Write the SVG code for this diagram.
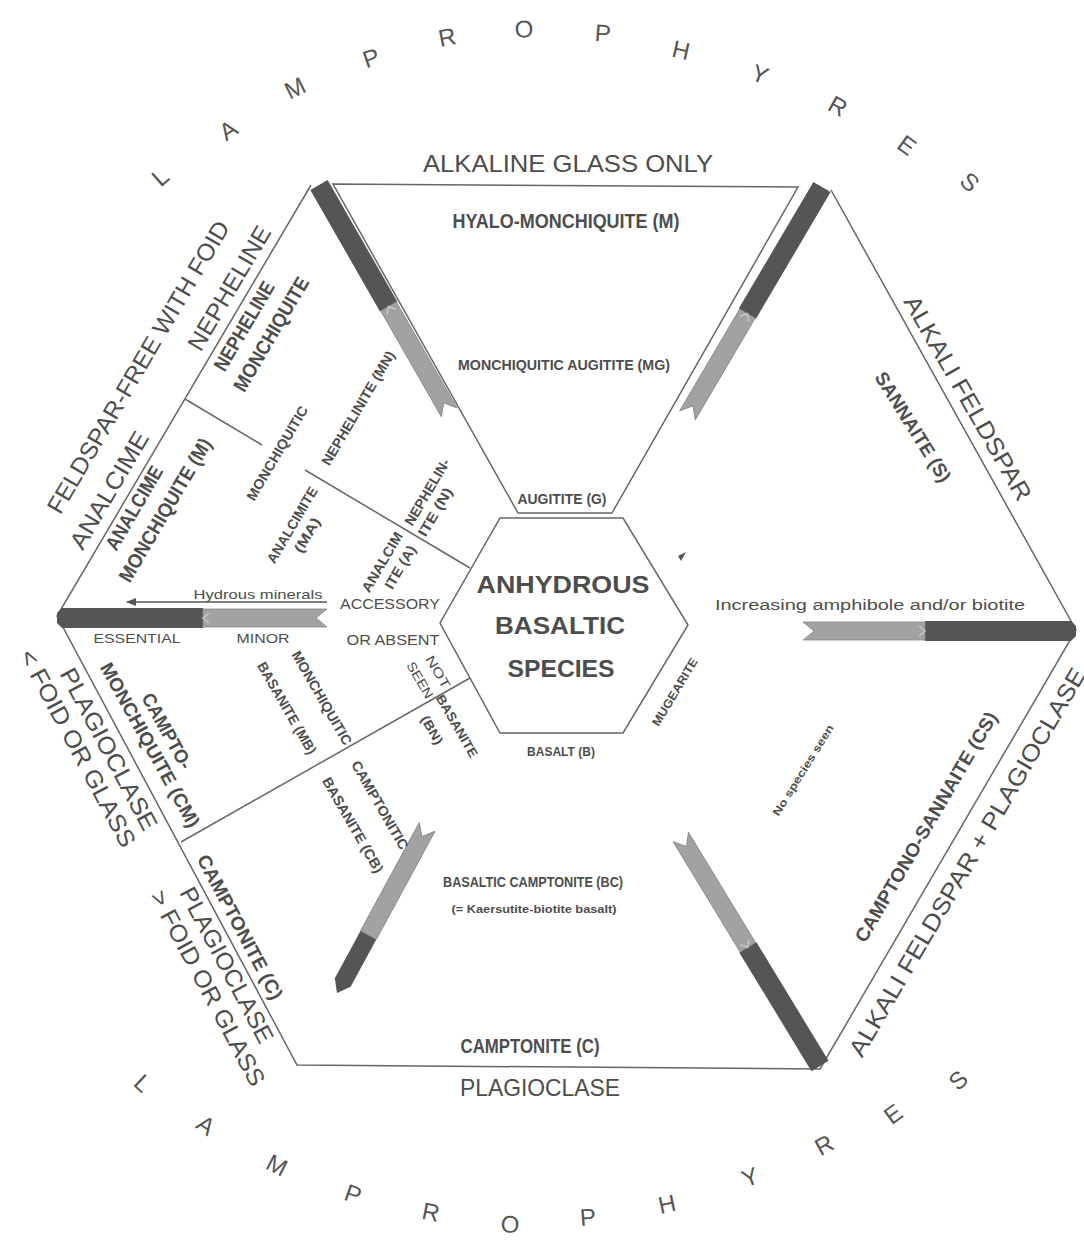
<svg xmlns="http://www.w3.org/2000/svg" width="1084" height="1242" viewBox="0 0 1084 1242">
<defs>
<style>
text{font-family:"Liberation Sans",Arial,Helvetica,sans-serif;fill:#4d4d4d;text-anchor:middle;dominant-baseline:central}
.r{font-size:24px}
.b{font-weight:bold}
.ln{fill:none;stroke:#666;stroke-width:1.5}
.dk{fill:#555}
.gy{fill:#a2a2a2;stroke:#858585;stroke-width:0.8}
.chev{fill:none;stroke:#c8c8c8;stroke-width:1.5}
.lt{font-size:24px;fill:#555}
</style>
<marker id="ah" markerWidth="10" markerHeight="8" refX="9" refY="4" orient="auto" markerUnits="userSpaceOnUse"><path d="M0,0 L10,4 L0,8 Z" fill="#555"/></marker>
</defs>
<rect width="1084" height="1242" fill="#fff"/>

<g id="frame">
<polygon class="ln" points="333,184 798,187 612,513 518,513"/>
<polyline class="ln" points="311,185 57,616 297,1065 820,1069 1076,630 831,190"/>
<polygon class="ln" points="500,518 623,518 688,625 623,733 500,733 440,623"/>
<line class="ln" x1="185" y1="399" x2="262" y2="445"/>
<line class="ln" x1="305" y1="470" x2="470" y2="568"/>
<line class="ln" x1="181" y1="842" x2="470" y2="678"/>
<path d="M678,556 L686,552 L681,561 Z" fill="#555"/>
</g>

<g id="bars">
<g transform="translate(319 185) rotate(60.2)">
<path class="dk" d="M0,-10 L140,-10 L140,10 L0,10 Z"/>
<path class="gy" d="M140,-9 L262,-9 L251,0 L262,9 L140,9 Z"/>
<polyline class="chev" points="146,-5 140,0 146,5"/>
</g>
<g transform="translate(822 187) rotate(120.5)">
<path class="dk" d="M0,-10 L147,-10 L147,10 L0,10 Z"/>
<path class="gy" d="M147,-9 L265,-9 L254,0 L265,9 L147,9 Z"/>
<polyline class="chev" points="153,-5 147,0 153,5"/>
</g>
<g transform="translate(1076 631) rotate(180)">
<path class="dk" d="M0,-5 L5,-10 L151,-10 L151,10 L5,10 L0,5 Z"/>
<path class="gy" d="M151,-9 L273,-9 L262,0 L273,9 L151,9 Z"/>
<polyline class="chev" points="157,-5 151,0 157,5"/>
</g>
<g transform="translate(820 1066) rotate(-121.3)">
<path class="dk" d="M0,-10 L139,-10 L139,10 L0,10 Z"/>
<path class="gy" d="M139,-9 L268,-9 L257,0 L268,9 L139,9 Z"/>
<polyline class="chev" points="145,-5 139,0 145,5"/>
</g>
<g transform="translate(337 993) rotate(-61.5)">
<path class="dk" d="M0,0 L12,-9 L66,-9 L66,9 L12,9 Z"/>
<path class="gy" d="M66,-9 L189,-9 L178,0 L189,9 L66,9 Z"/>
</g>
<g transform="translate(57 618) rotate(0)">
<path class="dk" d="M0,-5 L5,-10 L146,-10 L146,10 L5,10 L0,5 Z"/>
<path class="gy" d="M146,-9 L270,-9 L259,0 L270,9 L146,9 Z"/>
<polyline class="chev" points="152,-5 146,0 152,5"/>
</g>
</g>

<g id="connectors">
<line x1="327" y1="602" x2="127" y2="602" stroke="#555" stroke-width="1.3" marker-end="url(#ah)"/>
</g>

<g id="centre">
<text class="b" font-size="23" x="563" y="585" textLength="173" lengthAdjust="spacingAndGlyphs">ANHYDROUS</text>
<text class="b" font-size="23" x="560" y="626" textLength="130" lengthAdjust="spacingAndGlyphs">BASALTIC</text>
<text class="b" font-size="23" x="561" y="669" textLength="107" lengthAdjust="spacingAndGlyphs">SPECIES</text>
</g>

<g id="top-sector">
<text class="r" x="568" y="163" textLength="290" lengthAdjust="spacingAndGlyphs">ALKALINE GLASS ONLY</text>
<text class="b" font-size="20" x="566" y="221" textLength="227" lengthAdjust="spacingAndGlyphs">HYALO-MONCHIQUITE  (M)</text>
<text class="b" font-size="15" x="564" y="364" textLength="212" lengthAdjust="spacingAndGlyphs">MONCHIQUITIC AUGITITE  (MG)</text>
<text class="b" font-size="15" x="562" y="498" textLength="89" lengthAdjust="spacingAndGlyphs">AUGITITE (G)</text>
</g>

<g id="upper-left-sector">
<text class="r" transform="translate(138 367) rotate(-59.5)" textLength="335" lengthAdjust="spacingAndGlyphs">FELDSPAR-FREE WITH FOID</text>
<text class="r" transform="translate(229 288) rotate(-59.5)" textLength="140" lengthAdjust="spacingAndGlyphs">NEPHELINE</text>
<text class="r" transform="translate(109 490) rotate(-59.5)" textLength="132" lengthAdjust="spacingAndGlyphs">ANALCIME</text>
<text class="b" font-size="20" transform="translate(244 326) rotate(-59.5)" textLength="100" lengthAdjust="spacingAndGlyphs">NEPHELINE</text>
<text class="b" font-size="20" transform="translate(271 334) rotate(-59.5)" textLength="129" lengthAdjust="spacingAndGlyphs">MONCHIQUITE</text>
<text class="b" font-size="20" transform="translate(134 508) rotate(-59.5)" textLength="94" lengthAdjust="spacingAndGlyphs">ANALCIME</text>
<text class="b" font-size="20" transform="translate(165 510) rotate(-59.5)" textLength="163" lengthAdjust="spacingAndGlyphs">MONCHIQUITE  (M)</text>
<text class="b" font-size="14" transform="translate(277 453) rotate(-59.5)" textLength="107" lengthAdjust="spacingAndGlyphs">MONCHIQUITIC</text>
<text class="b" font-size="14" transform="translate(358 408) rotate(-59.5)" textLength="130" lengthAdjust="spacingAndGlyphs">NEPHELINITE  (MN)</text>
<text class="b" font-size="14" transform="translate(292 525) rotate(-59.5)" textLength="86" lengthAdjust="spacingAndGlyphs">ANALCIMITE</text>
<text class="b" font-size="14" transform="translate(307 535) rotate(-59.5)" textLength="38" lengthAdjust="spacingAndGlyphs">(MA)</text>
<text class="b" font-size="14" transform="translate(427 492) rotate(-59.5)" textLength="75" lengthAdjust="spacingAndGlyphs">NEPHELIN-</text>
<text class="b" font-size="14" transform="translate(435 512) rotate(-59.5)" textLength="54" lengthAdjust="spacingAndGlyphs">ITE (N)</text>
<text class="b" font-size="14" transform="translate(382 562) rotate(-59.5)" textLength="67" lengthAdjust="spacingAndGlyphs">ANALCIM</text>
<text class="b" font-size="14" transform="translate(400 567) rotate(-59.5)" textLength="48" lengthAdjust="spacingAndGlyphs">ITE (A)</text>
</g>

<g id="left-scale">
<text font-size="13" x="258" y="594" textLength="129" lengthAdjust="spacingAndGlyphs">Hydrous minerals</text>
<text font-size="14" x="390" y="604" textLength="100" lengthAdjust="spacingAndGlyphs">ACCESSORY</text>
<text font-size="14" x="393" y="640" textLength="93" lengthAdjust="spacingAndGlyphs">OR ABSENT</text>
<text font-size="13" x="137" y="638" textLength="87" lengthAdjust="spacingAndGlyphs">ESSENTIAL</text>
<text font-size="13" x="263" y="638" textLength="53" lengthAdjust="spacingAndGlyphs">MINOR</text>
</g>

<g id="lower-left-sector">
<text class="r" transform="translate(109 749) rotate(62)" textLength="180" lengthAdjust="spacingAndGlyphs">PLAGIOCLASE</text>
<text class="r" transform="translate(78 748) rotate(62)" textLength="220" lengthAdjust="spacingAndGlyphs">&lt; FOID OR GLASS</text>
<text class="b" font-size="19" transform="translate(167 731) rotate(61)" textLength="84" lengthAdjust="spacingAndGlyphs">CAMPTO-</text>
<text class="b" font-size="19" transform="translate(150 745) rotate(61)" textLength="185" lengthAdjust="spacingAndGlyphs">MONCHIQUITE  (CM)</text>
<text class="b" font-size="14" transform="translate(322 698) rotate(60)" textLength="106" lengthAdjust="spacingAndGlyphs">MONCHIQUITIC</text>
<text class="b" font-size="14" transform="translate(287 708) rotate(60)" textLength="104" lengthAdjust="spacingAndGlyphs">BASANITE  (MB)</text>
<text class="b" font-size="14" transform="translate(380 805) rotate(60)" textLength="100" lengthAdjust="spacingAndGlyphs">CAMPTONITIC</text>
<text class="b" font-size="14" transform="translate(353 825) rotate(60)" textLength="108" lengthAdjust="spacingAndGlyphs">BASANITE  (CB)</text>
<text font-size="13" transform="translate(438 672) rotate(60)" textLength="36" lengthAdjust="spacingAndGlyphs">NOT</text>
<text font-size="13" transform="translate(420 680) rotate(60)" textLength="40" lengthAdjust="spacingAndGlyphs">SEEN</text>
<text class="b" font-size="13" transform="translate(457 726) rotate(60)" textLength="70" lengthAdjust="spacingAndGlyphs">BASANITE</text>
<text class="b" font-size="13" transform="translate(432 730) rotate(60)" textLength="31" lengthAdjust="spacingAndGlyphs">(BN)</text>
<text class="b" font-size="19" transform="translate(240 927) rotate(62)" textLength="161" lengthAdjust="spacingAndGlyphs">CAMPTONITE  (C)</text>
<text class="r" transform="translate(227 965) rotate(62)" textLength="173" lengthAdjust="spacingAndGlyphs">PLAGIOCLASE</text>
<text class="r" transform="translate(208 988) rotate(62)" textLength="218" lengthAdjust="spacingAndGlyphs">&gt; FOID OR GLASS</text>
</g>

<g id="bottom-sector">
<text class="b" font-size="14" x="533" y="882" textLength="180" lengthAdjust="spacingAndGlyphs">BASALTIC CAMPTONITE  (BC)</text>
<text class="b" font-size="11" x="534" y="909" textLength="165" lengthAdjust="spacingAndGlyphs">(= Kaersutite-biotite basalt)</text>
<text class="b" font-size="20" x="530" y="1046" textLength="139" lengthAdjust="spacingAndGlyphs">CAMPTONITE  (C)</text>
<text class="r" x="540" y="1087" textLength="160" lengthAdjust="spacingAndGlyphs">PLAGIOCLASE</text>
<text class="b" font-size="13" x="561" y="751" textLength="68" lengthAdjust="spacingAndGlyphs">BASALT (B)</text>
</g>

<g id="right-sectors">
<text class="b" font-size="12" transform="translate(675 692) rotate(-59)" textLength="77" lengthAdjust="spacingAndGlyphs">MUGEARITE</text>
<text font-size="14" x="870" y="605" textLength="310" lengthAdjust="spacingAndGlyphs">Increasing amphibole and/or biotite</text>
<text class="r" transform="translate(968 398) rotate(60.2)" textLength="232" lengthAdjust="spacingAndGlyphs">ALKALI FELDSPAR</text>
<text class="b" font-size="19" transform="translate(913 427) rotate(58)" textLength="126" lengthAdjust="spacingAndGlyphs">SANNAITE  (S)</text>
<text class="b" font-size="11" transform="translate(803 770) rotate(-58)" textLength="105" lengthAdjust="spacingAndGlyphs">No species seen</text>
<text class="b" font-size="19" transform="translate(926 827) rotate(-59.7)" textLength="263" lengthAdjust="spacingAndGlyphs">CAMPTONO-SANNAITE  (CS)</text>
<text class="r" transform="translate(967 862) rotate(-59.7)" textLength="445" lengthAdjust="spacingAndGlyphs">ALKALI FELDSPAR + PLAGIOCLASE</text>
</g>

<g id="lamprophyres-top">
<text class="lt" transform="translate(160 177) rotate(-41.7)">L</text>
<text class="lt" transform="translate(228 130) rotate(-34.1)">A</text>
<text class="lt" transform="translate(295 88) rotate(-26.4)">M</text>
<text class="lt" transform="translate(371 58) rotate(-18.8)">P</text>
<text class="lt" transform="translate(447 37) rotate(-11.1)">R</text>
<text class="lt" transform="translate(524 29) rotate(-3.9)">O</text>
<text class="lt" transform="translate(603 33) rotate(4.5)">P</text>
<text class="lt" transform="translate(681 50) rotate(13)">H</text>
<text class="lt" transform="translate(760 74) rotate(21)">Y</text>
<text class="lt" transform="translate(838 106) rotate(29)">R</text>
<text class="lt" transform="translate(907 145) rotate(36)">E</text>
<text class="lt" transform="translate(970 182) rotate(42.5)">S</text>
</g>

<g id="lamprophyres-bottom">
<text class="lt" transform="translate(143 1083) rotate(42.6)">L</text>
<text class="lt" transform="translate(206 1125) rotate(35.2)">A</text>
<text class="lt" transform="translate(277 1165) rotate(27.3)">M</text>
<text class="lt" transform="translate(353 1194) rotate(19.4)">P</text>
<text class="lt" transform="translate(431 1212) rotate(11.5)">R</text>
<text class="lt" transform="translate(510 1224) rotate(3.7)">O</text>
<text class="lt" transform="translate(588 1217) rotate(-4)">P</text>
<text class="lt" transform="translate(667 1204) rotate(-11.9)">H</text>
<text class="lt" transform="translate(750 1177) rotate(-20.4)">Y</text>
<text class="lt" transform="translate(824 1145) rotate(-28.4)">R</text>
<text class="lt" transform="translate(893 1114) rotate(-35.7)">E</text>
<text class="lt" transform="translate(958 1080) rotate(-43)">S</text>
</g>
</svg>
